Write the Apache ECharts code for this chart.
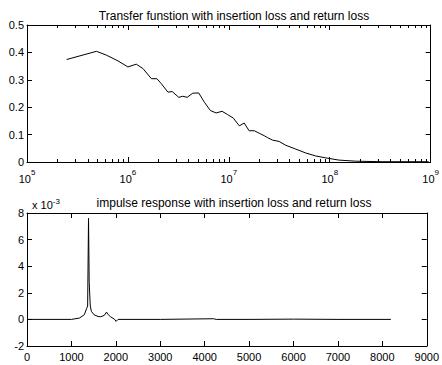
<!DOCTYPE html>
<html>
<head>
<meta charset="utf-8">
<script src="https://cdn.jsdelivr.net/npm/echarts@6/dist/echarts.min.js"></script>
<style>
  html, body { margin: 0; padding: 0; background: #fff; }
  #main { width: 442px; height: 365px; }
</style>
</head>
<body>
<div id="main"></div>
<script>
// transfer function (magnitude vs frequency, Hz)
var tfFreq = [2.47e5, 4.88e5, 6.12e5, 7.97e5, 1.0e6, 1.21e6, 1.41e6, 1.71e6, 1.94e6, 2.14e6,
  2.49e6, 2.75e6, 3.19e6, 3.5e6, 3.86e6, 4.39e6, 5.03e6, 5.73e6, 6.56e6, 7.48e6,
  8.57e6, 9.73e6, 1.11e7, 1.27e7, 1.42e7, 1.59e7, 1.79e7, 2.0e7, 2.24e7, 2.42e7,
  2.71e7, 3.15e7, 3.67e7, 4.61e7, 5.78e7, 7.26e7, 9.12e7, 1.23e8, 1.8e8, 3.3e8, 9.55e8];
var tfGain = [0.374, 0.404, 0.39, 0.369, 0.347, 0.357, 0.341, 0.304, 0.304, 0.286,
  0.255, 0.257, 0.236, 0.24, 0.236, 0.251, 0.252, 0.218, 0.188, 0.179,
  0.185, 0.173, 0.16, 0.132, 0.142, 0.114, 0.114, 0.105, 0.096, 0.089,
  0.08, 0.075, 0.061, 0.047, 0.033, 0.022, 0.015, 0.007, 0.003, 0.001, 0.001];

// impulse response (samples, amplitude in units of 1e-3)
var irTime = [0, 1000, 1180, 1290, 1340, 1365, 1385, 1400, 1415, 1425, 1450, 1510, 1600, 1660,
  1740, 1790, 1830, 1880, 1975, 2005, 2050, 3000, 4200, 4260, 5000, 6000, 7000, 8192];
var irAmp = [0, 0, 0.1, 0.35, 0.8, 1.0, 7.6, 2.8, 2.8, 1.0, 0.6, 0.35, 0.22, 0.2,
  0.3, 0.55, 0.35, 0.2, 0, -0.15, 0, 0, 0.05, 0, 0, 0.02, 0, 0];

var yTicksTop = [0, 0.1, 0.2, 0.3, 0.4, 0.5];
var yTicksBottom = [-2, 0, 2, 4, 6, 8];

var font = 'Liberation Sans';
var black = '#000';

function frame(gridIndex, pos, type, extra) {
  var ax = {
    gridIndex: gridIndex,
    type: type,
    position: pos,
    axisLine: { show: true, onZero: false, lineStyle: { color: black, width: 1 } },
    axisTick: { show: true, inside: true, length: 5, lineStyle: { color: black, width: 1 } },
    axisLabel: { show: false },
    splitLine: { show: false }
  };
  for (var k in extra) ax[k] = extra[k];
  return ax;
}

var tickLabel = { color: black, fontFamily: font, fontSize: 11 };

var logLabel = {
  show: true,
  margin: 6,
  formatter: function (v) {
    return '{b|10}{s|' + Math.round(Math.log10(v)) + '}';
  },
  rich: {
    b: { fontFamily: font, fontSize: 11, color: black, verticalAlign: 'bottom' },
    s: { fontFamily: font, fontSize: 8, color: black, verticalAlign: 'top', padding: [0, 0, 8, 0] }
  }
};

var logMinor = { show: true, splitNumber: 9, length: 3, lineStyle: { color: black } };

var option = {
  animation: false,
  backgroundColor: '#fff',
  title: [
    { text: 'Transfer funstion with insertion loss and return loss', left: 229, top: 5, textAlign: 'center',
      textStyle: { fontFamily: font, fontSize: 12, fontWeight: 'normal', color: black } },
    { text: 'impulse response with insertion loss and return loss', left: 229, top: 192, textAlign: 'center',
      textStyle: { fontFamily: font, fontSize: 12, fontWeight: 'normal', color: black } },
    { text: '{b|x 10}{s|-3}', left: 27, top: 192,
      textStyle: { fontWeight: 'normal', rich: {
        b: { fontFamily: font, fontSize: 11, fontWeight: 'normal', color: black },
        s: { fontFamily: font, fontSize: 8, fontWeight: 'normal', color: black, padding: [0, 0, 7, 0] }
      } } }
  ],
  grid: [
    { left: 27, right: 10, top: 25, height: 137 },
    { left: 27, right: 10, top: 213, height: 133 }
  ],
  xAxis: [
    frame(0, 'bottom', 'log', { min: 1e5, max: 1e9, logBase: 10, axisLabel: logLabel, minorTick: logMinor }),
    frame(0, 'top', 'log', { min: 1e5, max: 1e9, logBase: 10, minorTick: logMinor }),
    frame(1, 'bottom', 'value', { min: 0, max: 9000, interval: 1000,
      axisLabel: Object.assign({ show: true, margin: 5, formatter: function (v) { return String(v); } }, tickLabel) }),
    frame(1, 'top', 'value', { min: 0, max: 9000, interval: 1000 })
  ],
  yAxis: [
    frame(0, 'left', 'value', { min: yTicksTop[0], max: yTicksTop[yTicksTop.length - 1], interval: 0.1,
      axisLabel: Object.assign({ show: true, margin: 3 }, tickLabel) }),
    frame(0, 'right', 'value', { min: 0, max: 0.5, interval: 0.1 }),
    frame(1, 'left', 'value', { min: yTicksBottom[0], max: yTicksBottom[yTicksBottom.length - 1], interval: 2,
      axisLabel: Object.assign({ show: true, margin: 3 }, tickLabel) }),
    frame(1, 'right', 'value', { min: -2, max: 8, interval: 2 })
  ],
  series: [
    {
      type: 'line', xAxisIndex: 0, yAxisIndex: 0, symbol: 'none',
      lineStyle: { color: black, width: 1 },
      data: tfFreq.map(function (f, i) { return [f, tfGain[i]]; })
    },
    {
      type: 'line', xAxisIndex: 2, yAxisIndex: 2, symbol: 'none',
      lineStyle: { color: black, width: 1 },
      data: irTime.map(function (t, i) { return [t, irAmp[i]]; })
    }
  ]
};

var chart = echarts.init(document.getElementById('main'), null, { renderer: 'svg' });
chart.setOption(option);
</script>
</body>
</html>
